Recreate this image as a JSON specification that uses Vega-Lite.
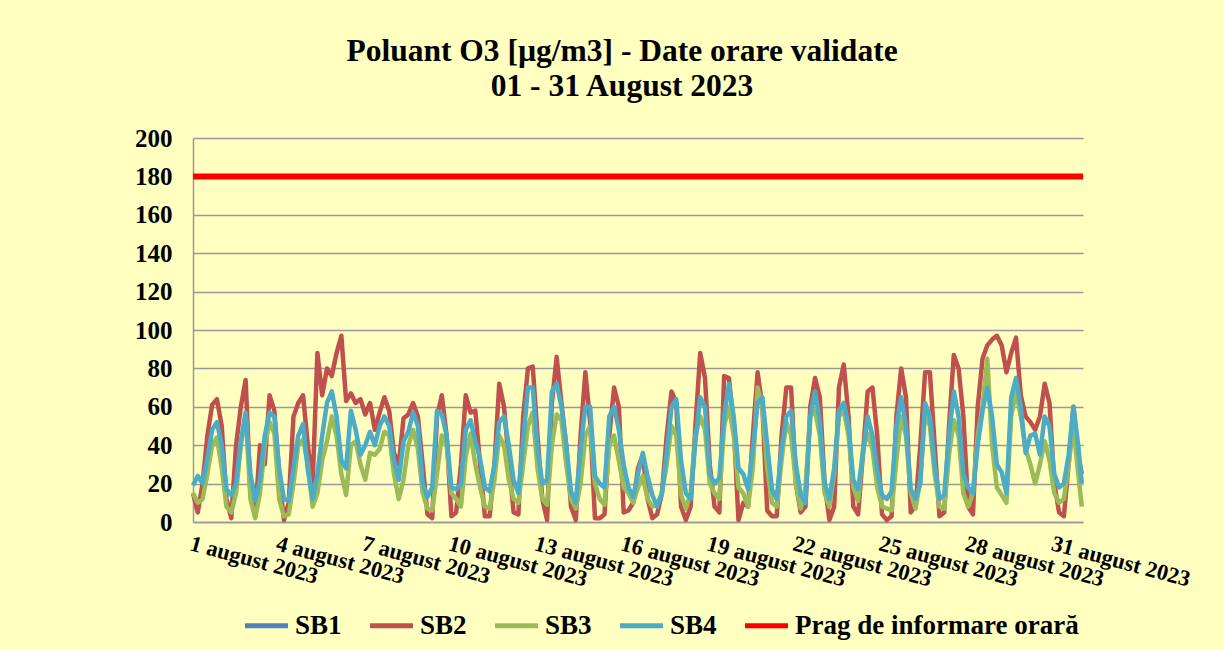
{
  "$schema": "https://vega.github.io/schema/vega-lite/v6.json",
  "width": 890,
  "height": 384,
  "autosize": {"type": "none"},
  "padding": {"left": 193, "top": 138, "right": 141, "bottom": 128},
  "background": "#FFFFC0",
  "config": {"font": "Liberation Serif", "view": {"stroke": null}},
  "title": {
    "text": ["Poluant O3 [µg/m3] - Date orare validate", "01 - 31 August  2023"],
    "fontSize": 31.5, "fontWeight": "bold", "font": "Liberation Serif", "color": "black",
    "lineHeight": 35, "offset": 24, "dx": -16, "anchor": "middle"
  },
  "datasets": {
    "ore": [
      {"h":0,"SB2":15,"SB3":15,"SB4":19},{"h":4,"SB2":5,"SB3":10,"SB4":24},{"h":8,"SB2":20,"SB3":12,"SB4":20},{"h":12,"SB2":45,"SB3":25,"SB4":33},
      {"h":16,"SB2":61,"SB3":40,"SB4":48},{"h":20,"SB2":64,"SB3":44,"SB4":52},{"h":24,"SB2":50,"SB3":28,"SB4":40},{"h":28,"SB2":12,"SB3":8,"SB4":17},
      {"h":32,"SB2":2,"SB3":5,"SB4":14},{"h":36,"SB2":40,"SB3":15,"SB4":20},{"h":40,"SB2":60,"SB3":40,"SB4":42},{"h":44,"SB2":74,"SB3":56,"SB4":57},
      {"h":48,"SB2":15,"SB3":12,"SB4":25},{"h":52,"SB2":3,"SB3":2,"SB4":11},{"h":56,"SB2":40,"SB3":15,"SB4":22},{"h":60,"SB2":30,"SB3":40,"SB4":45},
      {"h":64,"SB2":66,"SB3":52,"SB4":57},{"h":68,"SB2":58,"SB3":46,"SB4":55},{"h":72,"SB2":25,"SB3":12,"SB4":28},{"h":76,"SB2":1,"SB3":3,"SB4":12},
      {"h":80,"SB2":10,"SB3":4,"SB4":11},{"h":84,"SB2":55,"SB3":20,"SB4":28},{"h":88,"SB2":62,"SB3":40,"SB4":45},{"h":92,"SB2":66,"SB3":43,"SB4":51},
      {"h":96,"SB2":40,"SB3":30,"SB4":27},{"h":100,"SB2":20,"SB3":8,"SB4":12},{"h":104,"SB2":88,"SB3":15,"SB4":25},{"h":108,"SB2":66,"SB3":32,"SB4":45},
      {"h":112,"SB2":80,"SB3":42,"SB4":62},{"h":116,"SB2":76,"SB3":55,"SB4":68},{"h":120,"SB2":88,"SB3":45,"SB4":55},{"h":124,"SB2":97,"SB3":25,"SB4":32},
      {"h":128,"SB2":63,"SB3":14,"SB4":28},{"h":132,"SB2":67,"SB3":40,"SB4":58},{"h":136,"SB2":62,"SB3":42,"SB4":48},{"h":140,"SB2":64,"SB3":30,"SB4":35},
      {"h":144,"SB2":56,"SB3":22,"SB4":40},{"h":148,"SB2":62,"SB3":36,"SB4":47},{"h":152,"SB2":48,"SB3":35,"SB4":40},{"h":156,"SB2":57,"SB3":38,"SB4":50},
      {"h":160,"SB2":65,"SB3":47,"SB4":55},{"h":164,"SB2":58,"SB3":45,"SB4":50},{"h":168,"SB2":36,"SB3":25,"SB4":32},{"h":172,"SB2":30,"SB3":12,"SB4":22},
      {"h":176,"SB2":54,"SB3":22,"SB4":42},{"h":180,"SB2":56,"SB3":40,"SB4":47},{"h":184,"SB2":62,"SB3":48,"SB4":57},{"h":188,"SB2":55,"SB3":38,"SB4":50},
      {"h":192,"SB2":30,"SB3":15,"SB4":20},{"h":196,"SB2":4,"SB3":7,"SB4":13},{"h":200,"SB2":2,"SB3":6,"SB4":18},{"h":204,"SB2":55,"SB3":25,"SB4":58},
      {"h":208,"SB2":66,"SB3":45,"SB4":56},{"h":212,"SB2":45,"SB3":40,"SB4":45},{"h":216,"SB2":3,"SB3":15,"SB4":18},{"h":220,"SB2":5,"SB3":12,"SB4":17},
      {"h":224,"SB2":30,"SB3":8,"SB4":20},{"h":228,"SB2":66,"SB3":34,"SB4":48},{"h":232,"SB2":57,"SB3":46,"SB4":53},{"h":236,"SB2":58,"SB3":30,"SB4":42},
      {"h":240,"SB2":30,"SB3":18,"SB4":33},{"h":244,"SB2":3,"SB3":8,"SB4":18},{"h":248,"SB2":3,"SB3":7,"SB4":16},{"h":252,"SB2":30,"SB3":22,"SB4":30},
      {"h":256,"SB2":72,"SB3":45,"SB4":52},{"h":260,"SB2":60,"SB3":40,"SB4":55},{"h":264,"SB2":32,"SB3":22,"SB4":40},{"h":268,"SB2":5,"SB3":12,"SB4":22},
      {"h":272,"SB2":4,"SB3":10,"SB4":15},{"h":276,"SB2":55,"SB3":30,"SB4":42},{"h":280,"SB2":80,"SB3":50,"SB4":70},{"h":284,"SB2":81,"SB3":57,"SB4":70},
      {"h":288,"SB2":45,"SB3":28,"SB4":38},{"h":292,"SB2":12,"SB3":12,"SB4":20},{"h":296,"SB2":1,"SB3":9,"SB4":22},{"h":300,"SB2":62,"SB3":40,"SB4":68},
      {"h":304,"SB2":86,"SB3":56,"SB4":72},{"h":308,"SB2":62,"SB3":53,"SB4":60},{"h":312,"SB2":40,"SB3":30,"SB4":40},{"h":316,"SB2":8,"SB3":12,"SB4":16},
      {"h":320,"SB2":1,"SB3":7,"SB4":10},{"h":324,"SB2":45,"SB3":20,"SB4":38},{"h":328,"SB2":78,"SB3":45,"SB4":60},{"h":332,"SB2":52,"SB3":50,"SB4":60},
      {"h":336,"SB2":2,"SB3":20,"SB4":24},{"h":340,"SB2":2,"SB3":12,"SB4":20},{"h":344,"SB2":4,"SB3":9,"SB4":18},{"h":348,"SB2":45,"SB3":40,"SB4":55},
      {"h":352,"SB2":70,"SB3":45,"SB4":60},{"h":356,"SB2":60,"SB3":32,"SB4":48},{"h":360,"SB2":5,"SB3":18,"SB4":30},{"h":364,"SB2":6,"SB3":15,"SB4":18},
      {"h":368,"SB2":10,"SB3":10,"SB4":13},{"h":372,"SB2":28,"SB3":18,"SB4":25},{"h":376,"SB2":35,"SB3":24,"SB4":36},{"h":380,"SB2":12,"SB3":12,"SB4":24},
      {"h":384,"SB2":2,"SB3":8,"SB4":14},{"h":388,"SB2":4,"SB3":9,"SB4":8},{"h":392,"SB2":15,"SB3":15,"SB4":15},{"h":396,"SB2":45,"SB3":30,"SB4":36},
      {"h":400,"SB2":68,"SB3":50,"SB4":60},{"h":404,"SB2":62,"SB3":45,"SB4":64},{"h":408,"SB2":8,"SB3":14,"SB4":32},{"h":412,"SB2":1,"SB3":7,"SB4":15},
      {"h":416,"SB2":8,"SB3":15,"SB4":12},{"h":420,"SB2":50,"SB3":45,"SB4":42},{"h":424,"SB2":88,"SB3":55,"SB4":65},{"h":428,"SB2":75,"SB3":48,"SB4":60},
      {"h":432,"SB2":30,"SB3":20,"SB4":25},{"h":436,"SB2":8,"SB3":15,"SB4":20},{"h":440,"SB2":5,"SB3":12,"SB4":23},{"h":444,"SB2":76,"SB3":50,"SB4":55},
      {"h":448,"SB2":75,"SB3":60,"SB4":72},{"h":452,"SB2":50,"SB3":45,"SB4":55},{"h":456,"SB2":1,"SB3":18,"SB4":28},{"h":460,"SB2":10,"SB3":15,"SB4":25},
      {"h":464,"SB2":8,"SB3":8,"SB4":17},{"h":468,"SB2":45,"SB3":28,"SB4":38},{"h":472,"SB2":78,"SB3":70,"SB4":62},{"h":476,"SB2":60,"SB3":60,"SB4":65},
      {"h":480,"SB2":6,"SB3":28,"SB4":40},{"h":484,"SB2":3,"SB3":10,"SB4":17},{"h":488,"SB2":3,"SB3":8,"SB4":12},{"h":492,"SB2":45,"SB3":32,"SB4":38},
      {"h":496,"SB2":70,"SB3":52,"SB4":55},{"h":500,"SB2":70,"SB3":45,"SB4":58},{"h":504,"SB2":20,"SB3":20,"SB4":30},{"h":508,"SB2":5,"SB3":7,"SB4":14},
      {"h":512,"SB2":8,"SB3":18,"SB4":10},{"h":516,"SB2":60,"SB3":55,"SB4":55},{"h":520,"SB2":75,"SB3":58,"SB4":68},{"h":524,"SB2":65,"SB3":45,"SB4":52},
      {"h":528,"SB2":20,"SB3":15,"SB4":20},{"h":532,"SB2":1,"SB3":8,"SB4":12},{"h":536,"SB2":8,"SB3":25,"SB4":28},{"h":540,"SB2":70,"SB3":55,"SB4":58},
      {"h":544,"SB2":82,"SB3":58,"SB4":62},{"h":548,"SB2":55,"SB3":45,"SB4":50},{"h":552,"SB2":8,"SB3":18,"SB4":22},{"h":556,"SB2":4,"SB3":11,"SB4":17},
      {"h":560,"SB2":35,"SB3":38,"SB4":35},{"h":564,"SB2":68,"SB3":46,"SB4":55},{"h":568,"SB2":70,"SB3":38,"SB4":45},{"h":572,"SB2":45,"SB3":18,"SB4":27},
      {"h":576,"SB2":4,"SB3":8,"SB4":14},{"h":580,"SB2":1,"SB3":7,"SB4":12},{"h":584,"SB2":3,"SB3":6,"SB4":16},{"h":588,"SB2":55,"SB3":32,"SB4":50},
      {"h":592,"SB2":80,"SB3":55,"SB4":65},{"h":596,"SB2":65,"SB3":45,"SB4":50},{"h":600,"SB2":5,"SB3":15,"SB4":17},{"h":604,"SB2":8,"SB3":7,"SB4":12},
      {"h":608,"SB2":40,"SB3":22,"SB4":20},{"h":612,"SB2":78,"SB3":57,"SB4":62},{"h":616,"SB2":78,"SB3":50,"SB4":55},{"h":620,"SB2":40,"SB3":25,"SB4":30},
      {"h":624,"SB2":3,"SB3":8,"SB4":12},{"h":628,"SB2":5,"SB3":7,"SB4":14},{"h":632,"SB2":50,"SB3":35,"SB4":45},{"h":636,"SB2":87,"SB3":53,"SB4":68},
      {"h":640,"SB2":80,"SB3":45,"SB4":55},{"h":644,"SB2":55,"SB3":15,"SB4":25},{"h":648,"SB2":8,"SB3":8,"SB4":18},{"h":652,"SB2":4,"SB3":15,"SB4":15},
      {"h":656,"SB2":60,"SB3":45,"SB4":40},{"h":660,"SB2":85,"SB3":60,"SB4":58},{"h":664,"SB2":92,"SB3":85,"SB4":70},{"h":668,"SB2":95,"SB3":40,"SB4":55},
      {"h":672,"SB2":97,"SB3":18,"SB4":30},{"h":676,"SB2":92,"SB3":14,"SB4":26},{"h":680,"SB2":78,"SB3":10,"SB4":15},{"h":684,"SB2":88,"SB3":55,"SB4":65},
      {"h":688,"SB2":96,"SB3":68,"SB4":75},{"h":692,"SB2":66,"SB3":55,"SB4":60},{"h":696,"SB2":55,"SB3":38,"SB4":36},{"h":700,"SB2":52,"SB3":30,"SB4":45},
      {"h":704,"SB2":48,"SB3":20,"SB4":46},{"h":708,"SB2":55,"SB3":30,"SB4":35},{"h":712,"SB2":72,"SB3":42,"SB4":55},{"h":716,"SB2":62,"SB3":32,"SB4":50},
      {"h":720,"SB2":20,"SB3":15,"SB4":25},{"h":724,"SB2":5,"SB3":10,"SB4":18},{"h":728,"SB2":3,"SB3":12,"SB4":20},{"h":732,"SB2":30,"SB3":30,"SB4":35},
      {"h":736,"SB2":60,"SB3":50,"SB4":60},{"h":740,"SB2":35,"SB3":25,"SB4":40},{"h":743,"SB2":25,"SB3":8,"SB4":20}
    ],
    "prag": [{"v": 180}]
  },
  "layer": [
    {
      "data": {"name": "ore"},
      "transform": [{"fold": ["SB2", "SB3", "SB4"], "as": ["serie", "v"]}],
      "mark": {"type": "line", "strokeWidth": 4.5, "strokeJoin": "round"},
      "encoding": {
        "x": {
          "field": "h", "type": "quantitative",
          "scale": {"domain": [0, 744], "nice": false, "zero": false},
          "axis": {
            "title": null, "values": [0,72,144,216,288,360,432,504,576,648,720],
            "labelExpr": "(datum.value/24+1) + ' august 2023'",
            "labelAngle": 15, "labelAlign": "left", "labelBaseline": "top",
            "labelFontSize": 22.5, "labelFontWeight": "bold", "labelColor": "black",
            "labelPadding": 10, "labelDx": 9, "tickSize": 0, "grid": false,
            "domainColor": "#999999", "domainWidth": 1.5,
            "labelOverlap": false, "labelFlush": false, "labelBound": false, "labelLimit": 300
          }
        },
        "y": {
          "field": "v", "type": "quantitative",
          "scale": {"domain": [0, 200], "nice": false},
          "axis": {
            "title": null, "values": [0,20,40,60,80,100,120,140,160,180,200],
            "labelFontSize": 25, "labelFontWeight": "bold", "labelColor": "black",
            "labelPadding": 21, "tickSize": 0, "labelOverlap": false,
            "gridColor": "#999999", "gridWidth": 1.5,
            "domainColor": "#999999", "domainWidth": 1.5
          }
        },
        "color": {
          "field": "serie", "type": "nominal",
          "scale": {
            "domain": ["SB1", "SB2", "SB3", "SB4", "Prag de informare orară"],
            "range": ["#4F81BD", "#C0504D", "#9BBB59", "#4BACC6", "#FF0000"]
          },
          "legend": {
            "title": null, "orient": "none", "legendX": 49, "legendY": 463,
            "direction": "horizontal",
            "symbolType": "stroke", "symbolSize": 1850, "symbolStrokeWidth": 5,
            "labelFontSize": 27, "labelFontWeight": "bold", "labelColor": "black",
            "labelLimit": 400, "columnPadding": 17, "labelOffset": 4
          }
        }
      }
    },
    {
      "data": {"name": "prag"},
      "mark": {"type": "rule", "strokeWidth": 6},
      "encoding": {
        "y": {
          "field": "v", "type": "quantitative",
          "axis": {
            "title": null, "values": [0,20,40,60,80,100,120,140,160,180,200],
            "labelFontSize": 25, "labelFontWeight": "bold", "labelColor": "black",
            "labelPadding": 21, "tickSize": 0, "labelOverlap": false,
            "gridColor": "#999999", "gridWidth": 1.5,
            "domainColor": "#999999", "domainWidth": 1.5
          }
        },
        "color": {"datum": "Prag de informare orară"}
      }
    }
  ]
}
